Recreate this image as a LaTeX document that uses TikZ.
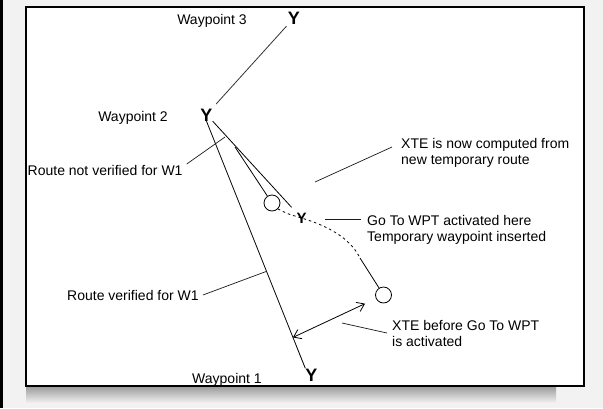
\documentclass[tikz,border=0pt]{standalone}
\usepackage{fontspec}
\setmainfont{Liberation Sans}
\usetikzlibrary{calc,arrows.meta}
\begin{document}
\begin{tikzpicture}[x=1pt,y=-1pt,
  lbl/.style={inner sep=0pt, anchor=base west, font=\fontsize{14}{16}\selectfont},
  wp/.style={inner sep=0pt, text height=13pt, text depth=0pt, font=\fontsize{18}{18}\selectfont\bfseries},
  route/.style={line width=0.8pt, black},
  lead/.style={line width=0.7pt, black!90},
  ring/.style={circle, draw, minimum size=16pt, inner sep=0pt, line width=0.8pt},
  barb/.style={{Straight Barb[length=7pt,width=10pt]}-{Straight Barb[length=7pt,width=10pt]}}]
\useasboundingbox (0,0) rectangle (603,408);
% background
\fill[black!5] (0,0) rectangle (603,408);
\fill[black] (0,0) rectangle (2.5,408);
\shade[top color=black!38, bottom color=black!5] (26,387) rectangle (556,403);
\draw[line width=1.2pt, fill=white] (26,7) rectangle (584,386);
% waypoints
\node[wp] (wpc) at (294,18) {Y};
\node[wp] (wpb) at (206.5,114.5) {Y};
\node[wp] (wpa) at (311.5,375) {Y};
\coordinate (tc) at (301.5,218);
\node[ring] (c1) at (272,203) {};
\node[ring] (c2) at (383.5,295) {};
% labels
\node[lbl, anchor=base east] (l3) at (247,24) {Waypoint 3};
\node[lbl, anchor=base east] (l2) at (168,121) {Waypoint 2};
\node[lbl] (l1) at (192,383) {Waypoint 1};
\node[lbl] (nrv) at (27.5,175) {Route not verified for W1};
\node[lbl] (rv) at (67,300) {Route verified for W1};
\node[lbl] (xn1) at (401,148) {XTE is now computed from};
\node[lbl] (xn2) at (401,164.5) {new temporary route};
\node[lbl] (gt1) at (367,225) {Go To WPT activated here};
\node[lbl] (gt2) at (367,241.7) {Temporary waypoint inserted};
\node[lbl] (xb1) at (392,330) {XTE before Go To WPT};
\node[lbl] (xb2) at (392,346.5) {is activated};
% routes
\draw[route, black!80, shorten <=2pt, shorten >=5pt] (wpc.south west) -- (wpb.north east);
\draw[route] (wpb.south) -- (wpa.north west);
\coordinate (s1) at (235,147);
\draw[route] (s1) -- (c1);
\coordinate (k) at (360,258);
\draw[route, dash pattern=on 2.5pt off 3pt] (c1.south east) .. controls (288,214) .. (tc) .. controls (335,228) and (352,242) .. (k);
\draw[route] (k) -- (c2);
\node[wp, font=\fontsize{15}{15}\selectfont\bfseries, text height=10.7pt] (wpt) at (tc) {Y};
\draw[route, shorten >=7pt] (wpb.south east) -- (wpt.north west);
% XTE arrow
\coordinate (xa) at ($(wpb.south)!0.875!(wpa.north west)$);
\draw[route, barb, shorten >=12pt] (xa) -- (c2);
% leaders
\coordinate (nv) at (225,137);
\draw[lead] ([xshift=4pt,yshift=11pt]nrv.base east) -- (nv);
\coordinate (rvp) at ($(wpb.south)!0.6076!(wpa.north west)$);
\draw[lead] ([xshift=4pt,yshift=5pt]rv.base east) -- (rvp);
\coordinate (xv) at (315,182);
\draw[lead] (xv) -- ([xshift=-9pt,yshift=1pt]xn1.base west);
\coordinate (gv) at (325,219);
\draw[lead] (gv) -- ([xshift=-6pt,yshift=6pt]gt1.base west);
\coordinate (bv) at (342,323);
\draw[lead] (bv) -- ([xshift=-5pt,yshift=-3pt]xb1.base west);
\end{tikzpicture}
\end{document}
